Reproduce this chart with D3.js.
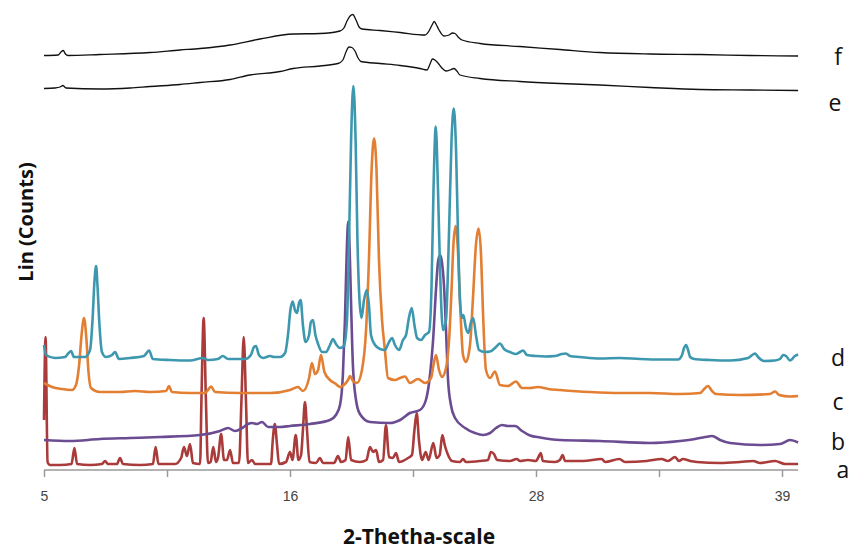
<!DOCTYPE html>
<html>
<head>
<meta charset="utf-8">
<script src="https://cdn.jsdelivr.net/npm/d3@7"></script>
<style>
  body { margin: 0; background: #fff; }
  svg { display: block; }
</style>
</head>
<body>
<div id="chart"></div>
<script>

// 2-theta tick positions (the axis labels are not evenly spaced in degrees)
var tickAnchors = [5, 16, 28, 39];
var tickValues = [5, 10.5, 16, 22, 28, 33.5, 39];
var tickLabels = ['5', '', '16', '', '28', '', '39'];

var seriesNames = ['a', 'b', 'c', 'd', 'e', 'f'];
var seriesColors = ['#aa3b3b', '#6b4c92', '#e27f33', '#3d98af', '#111111', '#111111'];

// [2-theta, Lin (Counts)], stacked as drawn
var seriesA = [
  [5.00,100],[5.07,266],[5.16,16],[5.27,10],[5.72,10],[6.23,12],[6.36,44],[6.48,12],
  [7.06,10],[7.59,12],[7.73,18],[7.86,12],[8.26,12],[8.40,24],[8.53,12],[9.29,10],
  [9.87,12],[9.99,46],[10.12,12],[10.86,12],[11.13,24],[11.26,46],[11.39,28],[11.53,52],
  [11.66,14],[11.98,12],[12.04,140],[12.14,304],[12.24,140],[12.33,14],[12.45,16],[12.57,46],
  [12.69,16],[12.78,24],[12.92,72],[13.05,20],[13.18,20],[13.32,40],[13.45,14],[13.72,14],
  [13.83,140],[13.93,266],[14.03,140],[14.12,14],[14.30,20],[14.44,12],[15.15,12],[15.23,60],
  [15.32,92],[15.42,50],[15.51,12],[15.82,16],[16.00,36],[16.12,20],[16.28,70],[16.41,20],
  [16.54,30],[16.63,80],[16.73,136],[16.83,80],[16.95,16],[17.27,14],[17.46,24],[17.61,14],
  [18.15,14],[18.34,28],[18.49,16],[18.71,20],[18.84,66],[18.98,20],[19.41,16],[19.73,20],
  [19.90,46],[20.05,36],[20.20,40],[20.34,16],[20.54,20],[20.68,90],[20.83,26],[21.02,24],
  [21.17,34],[21.32,16],[21.76,24],[21.95,30],[22.07,80],[22.18,114],[22.29,60],[22.44,20],
  [22.62,36],[22.76,20],[22.99,54],[23.15,24],[23.30,30],[23.43,70],[23.56,48],[23.71,30],
  [23.90,18],[24.29,16],[24.44,22],[24.58,16],[25.27,18],[25.66,20],[25.80,36],[25.95,32],
  [26.10,20],[26.73,18],[27.06,22],[27.22,18],[27.61,20],[28.00,18],[28.09,24],[28.21,34],
  [28.31,18],[28.85,16],[29.07,20],[29.19,30],[29.30,18],[30.10,18],[30.94,22],[31.09,16],
  [31.73,22],[31.98,16],[32.95,18],[33.62,22],[33.90,18],[34.22,26],[34.39,18],[34.57,22],
  [34.89,18],[35.19,16],[36.23,14],[37.13,16],[37.71,18],[38.02,14],[38.69,18],[39.14,12],
  [39.72,12]
];

var seriesB = [
  [5.00,60],[6.16,58],[7.50,62],[8.85,64],[10.19,66],[11.98,70],[12.87,78],[13.23,84],
  [13.54,78],[13.86,84],[14.12,92],[14.30,94],[14.52,92],[14.75,96],[15.02,86],[15.55,86],
  [16.00,88],[16.98,92],[17.95,100],[18.24,110],[18.44,130],[18.58,190],[18.68,300],[18.77,440],
  [18.84,497],[18.91,440],[19.00,300],[19.07,208],[19.22,140],[19.41,112],[19.90,96],[20.88,94],
  [21.37,100],[21.85,114],[22.34,120],[22.63,140],[22.83,190],[22.98,260],[23.12,360],[23.22,416],
  [23.32,430],[23.41,416],[23.51,370],[23.61,280],[23.71,180],[23.85,130],[24.05,104],[24.54,84],
  [25.02,74],[25.41,70],[25.76,74],[26.05,84],[26.34,90],[26.63,88],[26.98,88],[27.32,78],
  [27.71,69],[28.18,65],[29.07,60],[30.86,58],[33.10,54],[34.44,58],[35.11,62],[35.56,66],
  [35.87,68],[36.23,60],[36.68,54],[38.02,50],[38.91,52],[39.36,60],[39.72,55]
];

var seriesC = [
  [5.00,174],[5.36,166],[5.80,162],[6.25,160],[6.43,170],[6.57,210],[6.68,270],[6.79,304],
  [6.90,260],[6.99,196],[7.10,164],[7.50,156],[8.40,156],[9.07,158],[9.74,156],[10.46,158],
  [10.59,168],[10.72,156],[11.53,154],[12.20,154],[12.33,160],[12.47,167],[12.65,156],[13.77,154],
  [15.11,154],[16.00,160],[16.39,166],[16.63,158],[16.93,184],[17.07,214],[17.22,192],[17.37,200],
  [17.51,230],[17.68,196],[17.95,180],[18.24,172],[18.44,166],[18.63,170],[18.83,180],[18.93,188],
  [19.07,178],[19.27,174],[19.51,200],[19.71,280],[19.85,420],[19.98,600],[20.10,663],[20.22,600],
  [20.34,420],[20.49,300],[20.63,240],[20.78,184],[21.12,180],[21.37,184],[21.61,187],[21.85,174],
  [22.24,182],[22.59,174],[22.88,184],[23.00,210],[23.12,230],[23.27,200],[23.41,186],[23.61,204],
  [23.76,260],[23.88,360],[23.97,450],[24.08,488],[24.19,440],[24.29,340],[24.44,230],[24.58,216],
  [24.78,250],[24.92,340],[25.07,450],[25.20,483],[25.32,430],[25.41,320],[25.56,200],[25.76,184],
  [26.00,197],[26.24,170],[26.63,168],[27.02,177],[27.32,164],[27.71,164],[28.09,166],[28.54,162],
  [29.07,160],[30.41,156],[31.76,154],[33.10,154],[34.44,152],[35.34,154],[35.52,162],[35.69,168],
  [35.87,158],[36.05,152],[37.12,150],[38.46,152],[38.69,157],[38.87,150],[39.36,147],[39.72,148]
];

var seriesD = [
  [5.00,250],[5.09,230],[5.49,224],[5.94,226],[6.10,234],[6.21,238],[6.34,226],[6.83,226],
  [7.06,240],[7.17,300],[7.26,380],[7.33,408],[7.39,370],[7.48,290],[7.59,236],[7.77,226],
  [8.04,230],[8.18,236],[8.35,222],[8.85,224],[9.47,228],[9.70,239],[9.87,222],[10.63,220],
  [11.53,219],[12.11,224],[12.33,220],[12.78,222],[13.00,228],[13.23,222],[13.99,222],[14.25,230],
  [14.39,246],[14.48,248],[14.61,230],[14.79,224],[15.11,228],[15.28,226],[15.55,226],[15.78,234],
  [15.91,270],[16.02,320],[16.13,337],[16.24,320],[16.34,314],[16.44,334],[16.52,340],[16.63,290],
  [16.76,256],[16.93,270],[17.02,296],[17.12,300],[17.24,270],[17.37,252],[17.56,236],[17.76,236],
  [17.95,250],[18.10,262],[18.24,252],[18.44,244],[18.63,248],[18.78,300],[18.88,460],[18.98,660],
  [19.09,768],[19.20,660],[19.29,460],[19.39,340],[19.49,304],[19.61,340],[19.74,360],[19.85,330],
  [19.95,270],[20.15,250],[20.39,242],[20.63,240],[20.83,256],[20.98,264],[21.12,250],[21.32,240],
  [21.51,260],[21.66,270],[21.80,304],[21.94,324],[22.07,290],[22.20,264],[22.39,260],[22.59,270],
  [22.78,276],[22.90,360],[23.00,560],[23.11,687],[23.22,560],[23.32,400],[23.46,280],[23.61,300],
  [23.76,480],[23.88,660],[23.99,723],[24.10,640],[24.20,460],[24.29,340],[24.39,304],[24.46,310],
  [24.58,284],[24.70,274],[24.83,296],[24.94,304],[25.07,270],[25.22,240],[25.51,236],[25.76,237],
  [26.05,246],[26.24,253],[26.44,242],[26.73,236],[27.02,232],[27.22,236],[27.37,239],[27.56,230],
  [28.00,228],[28.40,227],[28.85,228],[29.16,232],[29.34,233],[29.52,228],[29.97,226],[30.86,223],
  [31.76,224],[32.65,222],[33.55,221],[34.35,221],[34.53,230],[34.62,244],[34.71,250],[34.80,240],
  [34.89,226],[35.07,222],[35.78,220],[36.68,219],[37.49,224],[37.67,230],[37.80,233],[37.93,226],
  [38.20,218],[38.69,219],[38.91,222],[39.05,230],[39.18,228],[39.36,219],[39.58,228],[39.72,231]
];

var seriesE = [
  [5.00,763],[5.49,764],[5.72,766],[5.85,769],[5.98,764],[7.50,762],[8.85,764],[9.74,767],
  [11.08,771],[11.98,775],[13.32,781],[14.21,790],[15.55,797],[16.15,803],[17.46,808],[18.34,813],
  [18.58,820],[18.73,836],[18.88,846],[19.02,845],[19.17,838],[19.32,824],[19.46,817],[20.39,813],
  [21.37,809],[22.34,803],[22.68,800],[22.83,812],[22.95,822],[23.07,820],[23.22,814],[23.41,804],
  [23.61,798],[23.80,800],[24.00,803],[24.14,798],[24.29,790],[25.27,783],[27.22,777],[29.07,773],
  [30.86,770],[33.10,765],[35.34,761],[37.58,760],[39.72,759]
];

var seriesF = [
  [5.00,829],[5.63,830],[5.76,836],[5.86,839],[5.96,832],[6.07,829],[7.50,831],[9.74,835],
  [11.08,840],[11.98,843],[13.32,850],[14.66,862],[16.15,872],[17.46,873],[18.44,878],[18.63,884],
  [18.78,898],[18.93,908],[19.06,911],[19.22,900],[19.37,886],[19.51,882],[20.39,879],[21.37,875],
  [22.59,870],[22.78,878],[22.93,890],[23.03,897],[23.12,892],[23.27,880],[23.51,868],[23.76,870],
  [23.93,874],[24.05,873],[24.20,866],[24.39,860],[25.27,853],[27.22,847],[29.07,841],[30.86,835],
  [33.10,832],[35.34,831],[37.58,829],[39.72,828]
];

var allSeries = [seriesA, seriesB, seriesC, seriesD, seriesE, seriesF];

var width = 849;
var height = 552;

var svg = d3.select('#chart')
  .append('svg')
  .attr('width', width)
  .attr('height', height);

var xScale = d3.scaleLinear()
  .domain(tickAnchors)
  .range([44, 290, 536, 782]);

var yScale = d3.scaleLinear()
  .domain([0, 940])
  .range([470, 0]);

var xMax = d3.max(allSeries, function(s) { return d3.max(s, function(d) { return d[0]; }); });

// x axis
var xAxis = d3.axisBottom(xScale)
  .tickValues(tickValues)
  .tickFormat(function(d, i) { return tickLabels[i]; })
  .tickSize(7)
  .tickSizeOuter(0)
  .tickPadding(14);

var axisG = svg.append('g')
  .attr('transform', 'translate(0,' + yScale(0) + ')')
  .call(xAxis);

axisG.select('.domain').remove();
axisG.selectAll('.tick line')
  .attr('stroke', '#9a9a9a')
  .attr('stroke-width', 1.5);
axisG.selectAll('.tick text')
  .attr('fill', '#444')
  .style('font-family', '"Liberation Sans", Arial, sans-serif')
  .style('font-size', '14px');

axisG.append('line')
  .attr('x1', xScale(5))
  .attr('x2', xScale(xMax))
  .attr('stroke', '#9a9a9a')
  .attr('stroke-width', 1.5);

// patterns
var line = d3.line()
  .x(function(d) { return xScale(d[0]); })
  .y(function(d) { return yScale(d[1]); })
  .curve(d3.curveMonotoneX);

allSeries.forEach(function(s, i) {
  var isBlack = i >= 4;
  svg.append('path')
    .datum(s)
    .attr('fill', 'none')
    .attr('stroke', seriesColors[i])
    .attr('stroke-width', isBlack ? 1.3 : 2.6)
    .attr('stroke-linejoin', 'round')
    .attr('d', line);
});

// series letters at the right
var labelY = [470, 442, 402, 358, 103, 57];
var labelX = [843, 838, 838, 838, 835, 838];

svg.selectAll('.series-label')
  .data(seriesNames)
  .enter()
  .append('text')
  .attr('class', 'series-label')
  .attr('x', function(d, i) { return labelX[i]; })
  .attr('y', function(d, i) { return labelY[i]; })
  .attr('dy', '0.35em')
  .attr('text-anchor', 'middle')
  .style('font-family', '"Open Sans", "Noto Sans", sans-serif')
  .style('font-size', '23px')
  .attr('fill', '#111')
  .text(function(d) { return d; });

// axis titles
svg.append('text')
  .attr('x', 419)
  .attr('y', 544)
  .attr('text-anchor', 'middle')
  .style('font-family', '"Open Sans", "Noto Sans", sans-serif')
  .style('font-weight', 'bold')
  .style('font-size', '21px')
  .attr('fill', '#111')
  .text('2-Thetha-scale');

svg.append('text')
  .attr('transform', 'translate(33,222) rotate(-90)')
  .attr('text-anchor', 'middle')
  .style('font-family', '"Open Sans", "Noto Sans", sans-serif')
  .style('font-weight', 'bold')
  .style('font-size', '20px')
  .attr('fill', '#111')
  .text('Lin (Counts)');

</script>
</body>
</html>
